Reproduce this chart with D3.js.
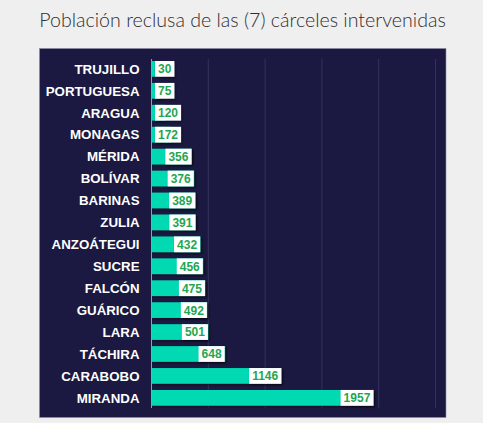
<!DOCTYPE html>
<html>
<head>
<meta charset="utf-8">
<script src="https://cdn.jsdelivr.net/npm/d3@7"></script>
<style>
  body { margin: 0; background: #f0efef; }
</style>
</head>
<body>
<div id="container"></div>
<script>
// données
const estados = ["TRUJILLO", "PORTUGUESA", "ARAGUA", "MONAGAS", "MÉRIDA", "BOLÍVAR", "BARINAS", "ZULIA",
  "ANZOÁTEGUI", "SUCRE", "FALCÓN", "GUÁRICO", "LARA", "TÁCHIRA", "CARABOBO", "MIRANDA"];
const poblacion = [30, 75, 120, 172, 356, 376, 389, 391, 432, 456, 475, 492, 501, 648, 1146, 1957];
const ticks = [0, 500, 1000, 1500, 2000, 2500];
const titulo = "Población reclusa de las (7) cárceles intervenidas";

const width = 483, height = 423;

const svg = d3.select("#container").append("svg")
  .attr("width", width)
  .attr("height", height);

svg.append("rect")
  .attr("width", width).attr("height", height)
  .attr("fill", "#f0efef");

svg.append("text")
  .attr("x", 242.5)
  .attr("y", 27)
  .attr("text-anchor", "middle")
  .style("font-family", "Lato")
  .style("font-weight", 300)
  .style("font-size", "19.6px")
  .style("fill", "#2e2e2e")
  .text(titulo);

// panneau sombre
svg.append("rect")
  .attr("x", 39.5).attr("y", 48.5)
  .attr("width", 406.5).attr("height", 369)
  .attr("fill", "#1b1941")
  .attr("stroke", "#8d8ca3")
  .attr("stroke-width", 0.6);

const defs = svg.append("defs");
const f = defs.append("filter").attr("id", "ombre")
  .attr("x", "-20%").attr("y", "-30%").attr("width", "150%").attr("height", "170%");
f.append("feDropShadow")
  .attr("dx", 1.2).attr("dy", 1.2).attr("stdDeviation", 0.8)
  .attr("flood-color", "#000").attr("flood-opacity", 0.5);

const x = d3.scaleLinear().domain([0, 2500]).range([151.5, 435.5]);
const y = d3.scaleBand().domain(estados).range([57.9, 408.8]).paddingInner(0.284).paddingOuter(0.142);

// grille
svg.append("g")
  .selectAll("line")
  .data(ticks.slice(1))
  .join("line")
  .attr("x1", d => x(d)).attr("x2", d => x(d))
  .attr("y1", 59).attr("y2", 408)
  .attr("stroke", "#34325a")
  .attr("stroke-width", 1);

// barres
svg.append("g")
  .selectAll("rect")
  .data(estados)
  .join("rect")
  .attr("x", x(0))
  .attr("y", d => y(d))
  .attr("width", (d, i) => x(poblacion[i]) - x(0))
  .attr("height", y.bandwidth())
  .attr("fill", "#00d9b2")
  .attr("filter", "url(#ombre)");

// axe vertical
svg.append("line")
  .attr("x1", x(0)).attr("x2", x(0))
  .attr("y1", 59).attr("y2", 408)
  .attr("stroke", "#9a99ae")
  .attr("stroke-width", 1);

// étiquettes des catégories
svg.append("g")
  .selectAll("text")
  .data(estados)
  .join("text")
  .attr("x", 139.5)
  .attr("y", d => y(d) + y.bandwidth() / 2)
  .attr("dy", "0.36em")
  .attr("text-anchor", "end")
  .style("font-family", "Liberation Sans, Arial, sans-serif")
  .style("font-weight", "bold")
  .style("font-size", "13.3px")
  .style("fill", "#fff")
  .text(d => d);

// étiquettes des valeurs
const labels = svg.append("g")
  .selectAll("g")
  .data(estados)
  .join("g");

labels.each(function (d, i) {
  const g = d3.select(this);
  const t = g.append("text")
    .attr("y", y(d) + y.bandwidth() / 2)
    .attr("dy", "0.37em")
    .style("font-family", "Liberation Sans, Arial, sans-serif")
    .style("font-weight", "bold")
    .style("font-size", "12px")
    .style("fill", "#1fa650")
    .text(poblacion[i]);
  const w = t.node().getComputedTextLength() + 6;
  let right = x(poblacion[i]) - 0.5;
  let left = right - w;
  if (left < x(0) + 3.5) { left = x(0) + 3.5; right = left + w; }
  g.insert("rect", "text")
    .attr("x", left)
    .attr("y", y(d))
    .attr("width", right - left)
    .attr("height", y.bandwidth())
    .attr("fill", "#fff")
    .attr("filter", "url(#ombre)");
  t.attr("x", left + 3);
});
</script>
</body>
</html>
